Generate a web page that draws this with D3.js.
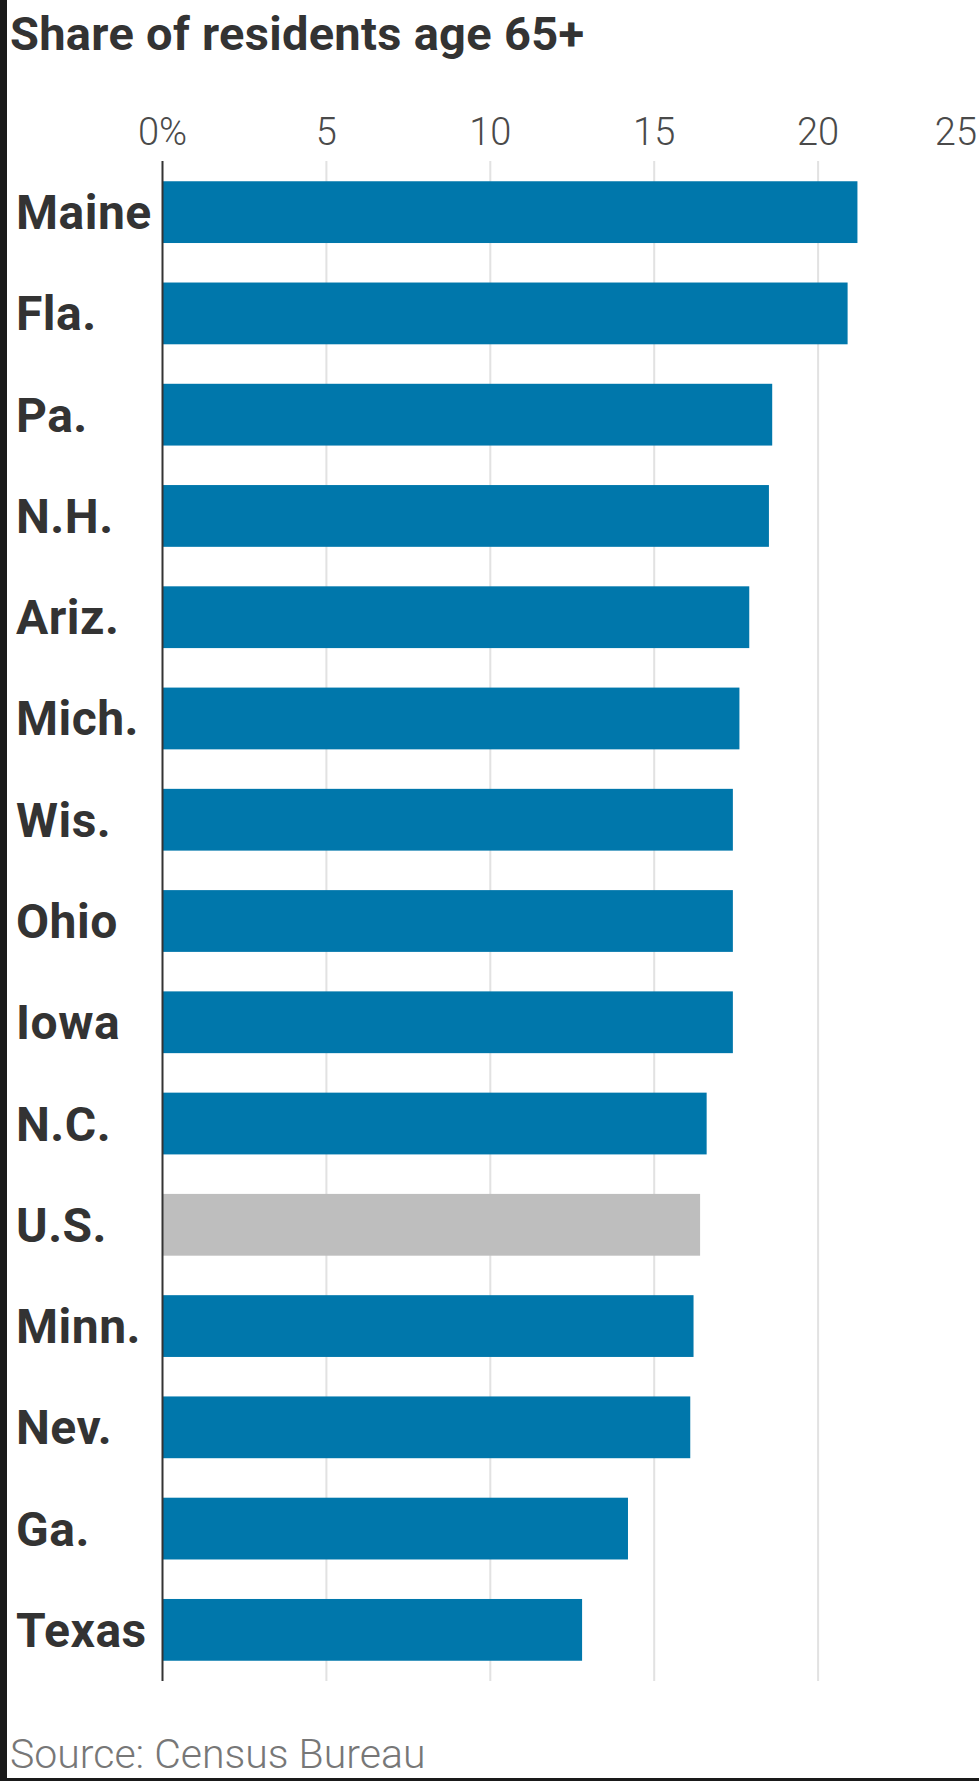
<!DOCTYPE html>
<html>
<head>
<meta charset="utf-8">
<script src="https://cdn.jsdelivr.net/npm/d3@7"></script>
<style>
  body { margin: 0; background: #fff; }
  svg { display: block; font-family: Roboto, "Noto Sans", sans-serif; }
</style>
</head>
<body>
<svg id="chart" width="979" height="1781"></svg>
<script>
// values
const states = ["Maine", "Fla.", "Pa.", "N.H.", "Ariz.", "Mich.", "Wis.", "Ohio", "Iowa", "N.C.", "U.S.", "Minn.", "Nev.", "Ga.", "Texas"];
const share = [21.2, 20.9, 18.6, 18.5, 17.9, 17.6, 17.4, 17.4, 17.4, 16.6, 16.4, 16.2, 16.1, 14.2, 12.8];
const ticks = [0, 5, 10, 15, 20, 25];
const highlight = "U.S.";

const data = states.map((s, i) => ({ state: s, value: share[i] }));

const width = 979, height = 1781;
const svg = d3.select("#chart");

const x = d3.scaleLinear().domain([0, 25]).range([162.5, 982]);
const y = d3.scaleBand()
    .domain(states)
    .range([161, 1681])
    .paddingInner(0.39)
    .paddingOuter(0.2);

// title
svg.append("text")
    .attr("x", 10)
    .attr("y", 50)
    .attr("fill", "#333")
    .attr("font-size", 47)
    .attr("font-weight", 700)
    .attr("letter-spacing", 0.3)
    .text("Share of residents age 65+");

// grid lines
svg.append("g")
    .selectAll("line")
    .data(ticks.slice(1))
    .join("line")
    .attr("x1", d => x(d))
    .attr("x2", d => x(d))
    .attr("y1", 161)
    .attr("y2", 1681)
    .attr("stroke", "#e2e2e2")
    .attr("stroke-width", 2);

// tick labels on top
svg.append("g")
    .selectAll("text")
    .data(ticks)
    .join("text")
    .attr("x", d => d === 25 ? width - 2 : x(d))
    .attr("y", 145)
    .attr("text-anchor", d => d === 25 ? "end" : "middle")
    .attr("fill", "#4a4a4a")
    .attr("font-size", 38)
    .attr("font-weight", 300)
    .text(d => d === 0 ? "0%" : d);

// bars
svg.append("g")
    .selectAll("rect")
    .data(data)
    .join("rect")
    .attr("x", x(0))
    .attr("y", d => y(d.state))
    .attr("width", d => x(d.value) - x(0))
    .attr("height", y.bandwidth())
    .attr("fill", d => d.state === highlight ? "#bebebe" : "#0077ab");

// zero axis line
svg.append("line")
    .attr("x1", x(0))
    .attr("x2", x(0))
    .attr("y1", 161)
    .attr("y2", 1681)
    .attr("stroke", "#333")
    .attr("stroke-width", 2);

// state labels
svg.append("g")
    .selectAll("text")
    .data(data)
    .join("text")
    .attr("x", 16)
    .attr("y", d => y(d.state) + y.bandwidth() / 2 + 17)
    .attr("fill", "#333")
    .attr("font-size", 48)
    .attr("font-weight", 700)
    .attr("letter-spacing", 0.5)
    .text(d => d.state);

// source
svg.append("text")
    .attr("x", 10)
    .attr("y", 1768)
    .attr("fill", "#777")
    .attr("font-size", 41)
    .attr("font-weight", 300)
    .text("Source: Census Bureau");

// dark frame on the left and bottom edges
svg.append("rect").attr("x", 0).attr("y", 0).attr("width", 7).attr("height", height).attr("fill", "#1a1a1a");
svg.append("rect").attr("x", 0).attr("y", 1778).attr("width", width).attr("height", 3).attr("fill", "#1a1a1a");
</script>
</body>
</html>
